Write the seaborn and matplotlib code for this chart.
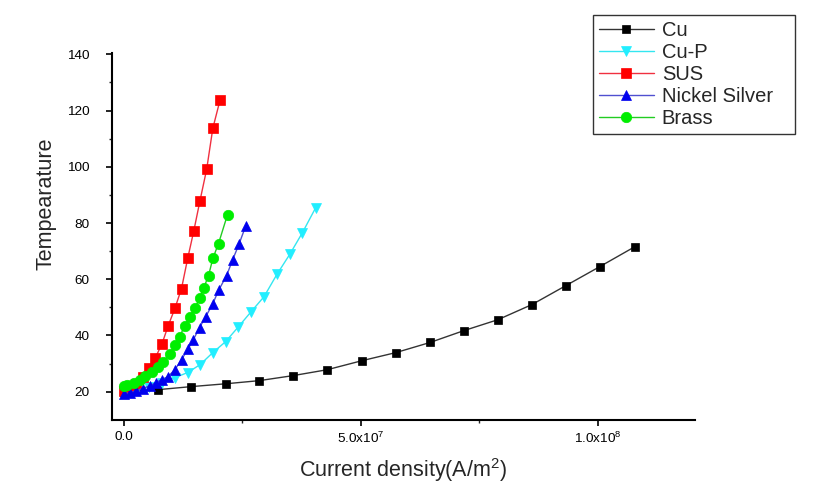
import numpy as np
import pandas as pd
import matplotlib
matplotlib.use("Agg")
import matplotlib.pyplot as plt
import seaborn as sns
from matplotlib.ticker import FixedLocator

# ---- data (current density in 1e7 A/m^2, temperature) ----
cu_x = [0, 0.72, 1.43, 2.15, 2.85, 3.57, 4.29, 5.02, 5.74, 6.46, 7.17, 7.89, 8.61, 9.32, 10.04, 10.78]
cu_y = [20.0, 20.7, 21.8, 22.8, 23.9, 25.7, 27.8, 31.0, 33.9, 37.5, 41.7, 45.6, 51.0, 57.7, 64.5, 71.6]

cup_x = [0, 0.27, 0.54, 0.81, 1.08, 1.35, 1.61, 1.88, 2.15, 2.42, 2.69, 2.96, 3.23, 3.50, 3.77, 4.05]
cup_y = [20.4, 20.7, 21.8, 23.2, 25.0, 26.8, 29.6, 33.9, 37.8, 43.1, 48.5, 53.8, 61.7, 68.8, 76.6, 85.5]

sus_x = [0, 0.13, 0.27, 0.40, 0.54, 0.67, 0.81, 0.94, 1.08, 1.22, 1.35, 1.48, 1.61, 1.75, 1.88, 2.03]
sus_y = [20.4, 21.4, 22.8, 25.3, 28.5, 32.1, 37.1, 43.5, 49.6, 56.7, 67.4, 77.3, 88.0, 99.1, 113.7, 123.6]

ns_x = [0, 0.13, 0.27, 0.40, 0.55, 0.68, 0.80, 0.93, 1.08, 1.22, 1.35, 1.46, 1.60, 1.73, 1.88, 2.00, 2.17, 2.30, 2.43, 2.57]
ns_y = [19.3, 19.6, 20.4, 21.1, 22.1, 23.2, 24.3, 25.3, 27.8, 31.4, 35.0, 38.2, 42.8, 46.7, 51.3, 56.0, 61.3, 67.0, 72.4, 78.8]

brass_x = [0, 0.08, 0.21, 0.34, 0.46, 0.59, 0.72, 0.84, 0.97, 1.08, 1.18, 1.29, 1.39, 1.50, 1.60, 1.69, 1.79, 1.88, 2.00, 2.19]
brass_y = [22.1, 22.5, 23.2, 24.3, 25.7, 27.1, 28.9, 30.7, 33.5, 36.7, 39.6, 43.5, 46.7, 49.6, 53.2, 57.0, 61.3, 67.4, 72.7, 83.0]

series_names = ["Cu", "Cu-P", "SUS", "Nickel Silver", "Brass"]
series_x = [cu_x, cup_x, sus_x, ns_x, brass_x]
series_y = [cu_y, cup_y, sus_y, ns_y, brass_y]

x_ticks = [0, 5e7, 1e8]
x_tick_labels = ["0.0", r"5.0x10$^7$", r"1.0x10$^8$"]
y_ticks = [20, 40, 60, 80, 100, 120, 140]

# ---- styles ----
line_colors = ["#333333", "#33e6f0", "#f03040", "#5050d0", "#22cc22"]
marker_colors = ["#000000", "#22eeff", "#ff0000", "#0000ee", "#00ee00"]
markers = ["s", "v", "s", "^", "o"]
msizes = [5.8, 7.5, 6.5, 7.5, 7.5]

sns.set_style("ticks")
plt.rcParams["font.family"] = ["Liberation Sans", "DejaVu Sans"]
plt.rcParams["mathtext.fontset"] = "custom"
plt.rcParams["mathtext.rm"] = "Liberation Sans"
plt.rcParams["mathtext.it"] = "Liberation Sans"

fig = plt.figure(figsize=(8.16, 4.95), dpi=100)
ax = fig.add_axes([0.137, 0.152, 0.715, 0.741])

for name, xs, ys, lc, mc, mk, ms in zip(series_names, series_x, series_y,
                                        line_colors, marker_colors, markers, msizes):
    df = pd.DataFrame({"x": np.array(xs) * 1e7, "y": ys})
    sns.lineplot(data=df, x="x", y="y", ax=ax, color=lc, linewidth=1.0,
                 marker=mk, markersize=ms, markerfacecolor=mc, markeredgecolor=mc,
                 markeredgewidth=0.5, label=name, estimator=None, sort=False)

ax.set_xlim(-2.5e6, 1.205e8)
ax.set_ylim(10, 140.5)

ax.xaxis.set_major_locator(FixedLocator(x_ticks))
ax.set_xticklabels(x_tick_labels)
ax.xaxis.set_minor_locator(FixedLocator([2.5e7, 7.5e7]))
ax.yaxis.set_major_locator(FixedLocator(y_ticks))
ax.yaxis.set_minor_locator(FixedLocator([30, 50, 70, 90, 110, 130]))

ax.tick_params(axis="both", which="major", direction="out", length=4, width=1.2,
               labelsize=9.7, colors="black", pad=4)
ax.tick_params(axis="y", which="major", pad=12)
ax.tick_params(axis="both", which="minor", direction="out", length=2, width=1.0)

for s in ["top", "right"]:
    ax.spines[s].set_visible(False)
for s in ["left", "bottom"]:
    ax.spines[s].set_linewidth(1.5)
    ax.spines[s].set_color("black")

ax.set_xlabel(r"Current density(A/m$^2$)", fontsize=15.5, labelpad=7)
ax.set_ylabel("Tempearature", fontsize=15.5, labelpad=10)
ax.yaxis.set_label_coords(-0.095, 0.59)

ax.get_legend().remove()
handles, labels = ax.get_legend_handles_labels()
leg = fig.legend(handles, labels, loc="upper left",
                 bbox_to_anchor=(0.727, 0.729, 0.247, 0.241), mode="expand",
                 frameon=True, fancybox=False, shadow=False, fontsize=14.5,
                 handlelength=2.7, handletextpad=0.4, labelspacing=0.15,
                 borderpad=0.3, borderaxespad=0)
leg.get_frame().set_edgecolor("black")
leg.get_frame().set_linewidth(1.0)

fig.savefig("out.png", dpi=100)
